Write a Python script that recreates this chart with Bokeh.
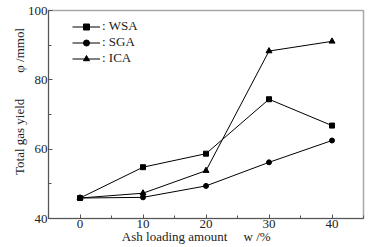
from bokeh.plotting import figure
from bokeh.models import Range1d, Legend, LegendItem, FixedTicker
from bokeh.embed import file_html
from bokeh.resources import INLINE

# Data
ash_loading = [0, 10, 20, 30, 40]
wsa = [45.9, 54.8, 58.7, 74.4, 66.8]
sga = [45.9, 46.1, 49.4, 56.2, 62.5]
ica = [45.9, 47.3, 53.8, 88.3, 91.1]
x_ticks = [0, 10, 20, 30, 40]
y_ticks = [40, 60, 80, 100]
legend_labels = [": WSA", ": SGA", ": ICA"]

FONT = "Liberation Serif"
NB = "\u00a0"

p = figure(width=373, height=247, output_backend="svg", toolbar_location=None,
           x_range=Range1d(-5, 45), y_range=Range1d(40, 100),
           min_border_left=48, min_border_right=10, min_border_top=10, min_border_bottom=29)
p.grid.visible = False
p.outline_line_color = "#a8a8a8"
p.outline_line_width = 1.5

for ax in (p.xaxis[0], p.yaxis[0]):
    ax.axis_line_color = "#555555"
    ax.major_tick_line_color = "#555555"
    ax.minor_tick_line_color = "#555555"
    ax.major_label_text_font = FONT
    ax.major_label_text_font_size = "13px"
    ax.major_label_text_color = "#222222"
    ax.major_tick_in = 4
    ax.major_tick_out = 0
    ax.minor_tick_in = 3
    ax.minor_tick_out = 0
    ax.axis_label_text_font = FONT
    ax.axis_label_text_font_size = "13px"
    ax.axis_label_text_font_style = "normal"
    ax.axis_label_text_color = "#222222"

p.xaxis.major_label_standoff = 1
p.xaxis.axis_label_standoff = -2
p.yaxis.major_label_standoff = 1
p.yaxis.axis_label_standoff = -2

p.xaxis.axis_label = "Ash loading amount" + NB * 5 + "w /%" + NB * 6
p.yaxis.axis_label = NB * 8 + "Total gas yield" + NB * 8 + "φ /mmol"

p.xaxis.ticker = FixedTicker(ticks=x_ticks, minor_ticks=[-5, 5, 15, 25, 35, 45])
p.yaxis.ticker = FixedTicker(ticks=y_ticks, minor_ticks=[50, 70, 90])

r1 = p.line(ash_loading, wsa, line_color="black", line_width=1)
m1 = p.scatter(ash_loading, wsa, marker="square", size=5, color="black")
r2 = p.line(ash_loading, sga, line_color="black", line_width=1)
m2 = p.scatter(ash_loading, sga, marker="circle", size=5, color="black")
r3 = p.line(ash_loading, ica, line_color="black", line_width=1)
m3 = p.scatter(ash_loading, ica, marker="triangle", size=6, color="black")

legend = Legend(items=[
    LegendItem(label=legend_labels[0], renderers=[r1, m1]),
    LegendItem(label=legend_labels[1], renderers=[r2, m2]),
    LegendItem(label=legend_labels[2], renderers=[r3, m3]),
], location=(24, 152), padding=0, spacing=0, margin=0,
    glyph_width=28, glyph_height=15, label_height=15, label_standoff=2,
    label_text_font=FONT, label_text_font_size="13px", label_text_color="#222222",
    border_line_color=None, background_fill_alpha=0)
p.add_layout(legend, "center")

open("out.html", "w").write(file_html(p, INLINE))
